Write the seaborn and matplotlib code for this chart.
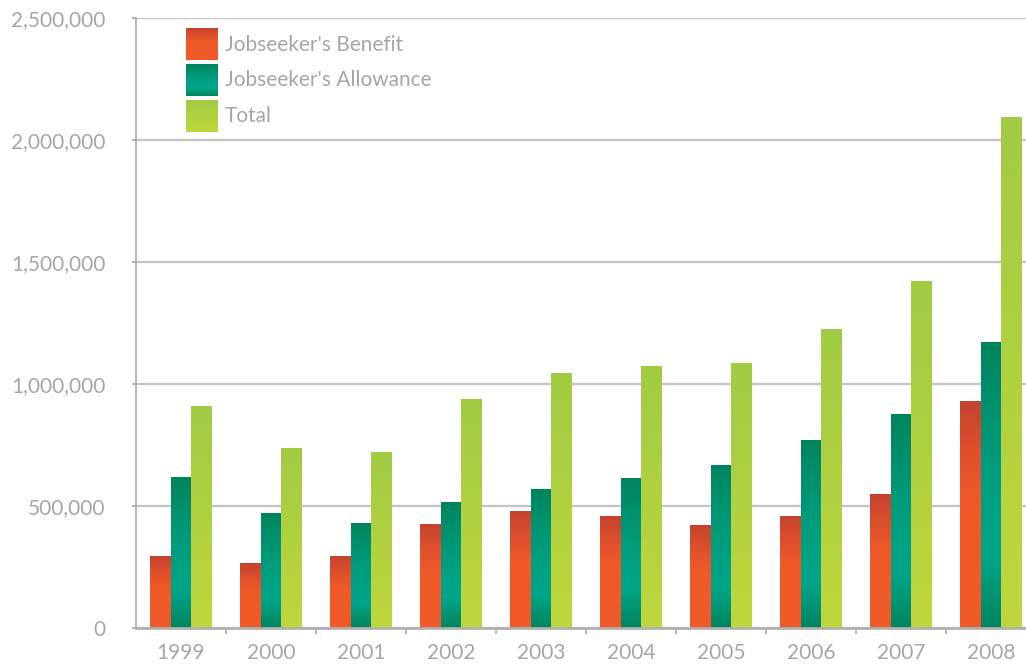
import numpy as np
import pandas as pd
import matplotlib
matplotlib.use("Agg")
import matplotlib.pyplot as plt
import seaborn as sns
from matplotlib.colors import LinearSegmentedColormap, Normalize
from matplotlib.patches import Patch
from matplotlib.image import BboxImage
from matplotlib.transforms import Bbox, TransformedBbox
from matplotlib.ticker import FuncFormatter, FixedLocator

years = ["1999", "2000", "2001", "2002", "2003", "2004", "2005", "2006", "2007", "2008"]
benefit = [294000, 266000, 294000, 425000, 478000, 458000, 421000, 458000, 548000, 928000]
allowance = [617000, 470000, 429000, 515000, 568000, 613000, 666000, 769000, 875000, 1169000]
total = [908000, 736000, 720000, 936000, 1042000, 1071000, 1083000, 1222000, 1419000, 2093000]
series = ["Jobseeker's Benefit", "Jobseeker's Allowance", "Total"]

df = pd.DataFrame({"Year": years, series[0]: benefit, series[1]: allowance, series[2]: total})
df = df.melt(id_vars="Year", var_name="Series", value_name="Value")

# gradients, position 0 = bottom of bar, 1 = top
cmaps = {
    series[0]: LinearSegmentedColormap.from_list("jb", [(0, "#f15a29"), (0.55, "#f05a29"), (0.8, "#dc4e2d"), (1, "#c4432f")]),
    series[1]: LinearSegmentedColormap.from_list("ja", [(0, "#00845f"), (0.25, "#00a68b"), (0.6, "#009b7b"), (1, "#00845e")]),
    series[2]: LinearSegmentedColormap.from_list("tot", [(0, "#bfd73b"), (1, "#a2cb45")]),
}
palette = {s: cmaps[s](0.5) for s in series}

plt.rcParams["font.family"] = ["Lato", "DejaVu Sans"]
grey = "#a6a6a6"

fig = plt.figure(figsize=(10.26, 6.66), dpi=100)
ax = fig.add_axes([136 / 1026, 38 / 666, 890 / 1026, 610 / 666])

sns.barplot(data=df, x="Year", y="Value", hue="Series", hue_order=series, palette=palette,
            width=0.68, saturation=1, legend=False, ax=ax, errorbar=None)

grad = np.linspace(0, 1, 256)[:, None]
n = len(years)
for i, p in enumerate(ax.patches):
    s = series[i // n]
    x0, w, h = p.get_x(), p.get_width(), p.get_height()
    ax.imshow(grad, cmap=cmaps[s], extent=[x0, x0 + w, 0, h], origin="lower",
              aspect="auto", interpolation="bilinear", zorder=2)
    p.set_visible(False)

ax.set_xlim(-0.5, (1026 - 136) / 90 - 0.5)
ax.set_ylim(0, 2500000)
ax.set_xlabel("")
ax.set_ylabel("")

ax.set_yticks(np.arange(0, 2500001, 500000))
ax.yaxis.set_major_formatter(FuncFormatter(lambda v, _: f"{int(v):,}"))
ax.set_axisbelow(True)
ax.grid(axis="y", color="#c4c4c4", linewidth=1.6)
ax.grid(axis="x", visible=False)

for sp in ["top", "right"]:
    ax.spines[sp].set_visible(False)
ax.spines["left"].set_color("#a8a8a8")
ax.spines["left"].set_linewidth(1.2)
ax.spines["bottom"].set_color("#b0b0b0")
ax.spines["bottom"].set_linewidth(2)

ax.tick_params(axis="y", length=3, width=1.2, color="#a8a8a8", pad=19, labelsize=15, labelcolor=grey)
ax.tick_params(axis="x", which="major", length=0, pad=11, labelsize=15, labelcolor=grey)
ax.xaxis.set_minor_locator(FixedLocator(np.arange(n) + 0.5))
ax.tick_params(axis="x", which="minor", length=4, width=1.2, color="#a8a8a8")


class GradientHandler:
    def __init__(self, cmap):
        self.cmap = cmap

    def legend_artist(self, legend, orig_handle, fontsize, handlebox):
        x0, y0 = handlebox.xdescent, handlebox.ydescent
        w, h = handlebox.width, handlebox.height
        bb = TransformedBbox(Bbox.from_bounds(-x0, -y0, w, h), handlebox.get_transform())
        img = BboxImage(bb, cmap=self.cmap, norm=Normalize(0, 1), interpolation="bilinear", origin="lower")
        img.set_data(np.linspace(0, 1, 64)[:, None])
        handlebox.add_artist(img)
        return img


handles = [Patch(label=s) for s in series]
hmap = {h: GradientHandler(cmaps[s]) for h, s in zip(handles, series)}
leg = ax.legend(handles=handles, labels=series, handler_map=hmap, loc="upper left",
                bbox_to_anchor=(186 / 1026, 1 - 28 / 666), bbox_transform=fig.transFigure,
                frameon=False, fontsize=15, handlelength=1.53, handleheight=1.98,
                handletextpad=0.33, labelspacing=0.19, borderpad=0, borderaxespad=0)
for t in leg.get_texts():
    t.set_color(grey)

fig.savefig("out.png", dpi=100)
